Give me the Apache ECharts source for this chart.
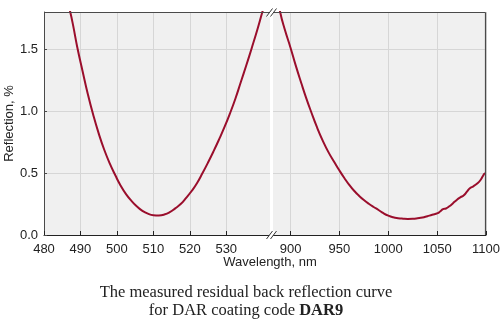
<!DOCTYPE html>
<html><head><meta charset="utf-8">
<script src="https://cdn.jsdelivr.net/npm/echarts@6/dist/echarts.min.js"></script>
<style>html,body{margin:0;padding:0;background:#fff}#c{width:503px;height:327px}</style>
</head><body><div id="c"></div>
<script>
const leftWavelengths = [486.3, 487.2, 488.0, 489.1, 490.6, 492.0, 493.5, 495.0, 496.5, 498.0, 499.6, 501.0, 502.5, 504.0, 505.5, 507.0, 508.5, 510.0, 511.5, 513.0, 514.5, 516.0, 517.5, 519.0, 520.5, 522.0, 523.5, 525.0, 526.5, 528.0, 529.5, 531.0, 532.5, 534.0, 535.5, 537.0, 538.5, 539.9, 540.7];
const leftReflection = [1.90, 1.80, 1.69, 1.52, 1.32, 1.14, 0.97, 0.82, 0.69, 0.58, 0.48, 0.40, 0.33, 0.275, 0.23, 0.195, 0.172, 0.160, 0.158, 0.165, 0.184, 0.215, 0.25, 0.30, 0.355, 0.42, 0.50, 0.585, 0.675, 0.77, 0.87, 0.98, 1.10, 1.235, 1.37, 1.51, 1.655, 1.80, 1.88];
const rightWavelengths = [887.5, 889.3, 894.0, 900.0, 905.0, 911.0, 916.0, 921.0, 927.0, 933.0, 939.0, 945.0, 950.0, 955.0, 960.0, 965.0, 970.0, 975.0, 980.0, 985.0, 990.0, 995.0, 1000.0, 1005.0, 1010.0, 1015.0, 1020.0, 1025.0, 1030.0, 1035.0, 1040.0, 1045.0, 1050.5, 1053.0, 1056.0, 1059.0, 1062.5, 1066.0, 1070.0, 1074.0, 1077.0, 1080.5, 1083.5, 1087.0, 1091.0, 1094.0, 1097.0, 1098.8, 1100.0];
const rightReflection = [1.90, 1.80, 1.66, 1.51, 1.375, 1.225, 1.105, 0.995, 0.87, 0.76, 0.665, 0.585, 0.52, 0.46, 0.405, 0.357, 0.317, 0.282, 0.252, 0.226, 0.202, 0.176, 0.156, 0.143, 0.136, 0.132, 0.130, 0.131, 0.135, 0.141, 0.152, 0.163, 0.176, 0.190, 0.208, 0.214, 0.232, 0.255, 0.283, 0.305, 0.318, 0.350, 0.378, 0.393, 0.416, 0.440, 0.478, 0.497, 0.497];
const leftTicks = [480, 490, 500, 510, 520, 530];
const rightTicks = [900, 950, 1000, 1050, 1100];
const xTitle = 'Wavelength, nm';
const yTitle = 'Reflection, %';
const captionLine1 = 'The measured residual back reflection curve';
const captionLine2a = 'for DAR coating code ';
const captionLine2b = 'DAR9';

const sans = 'Liberation Sans';
const serif = 'Liberation Serif';
const lineColor = '#9a0e2c';
const gridLine = '#d6d6d6';
const bg = '#f0f0f0';
const frame = '#4a4a4a';

const toPairs = (xs, ys) => xs.map((x, i) => [x, ys[i]]);

const chart = echarts.init(document.getElementById('c'), null, {renderer: 'canvas'});

const option = {
  animation: false,
  backgroundColor: '#fff',
  grid: [
    {left: 44, top: 12, width: 226, height: 223, show: true, backgroundColor: bg, borderWidth: 0},
    {left: 273, top: 12, right: 15, height: 223, show: true, backgroundColor: bg, borderWidth: 0}
  ],
  xAxis: [
    {type: 'value', gridIndex: 0, min: 480, max: 542, position: 'bottom',
     axisLine: {onZero: false, lineStyle: {color: '#222', width: 1}},
     axisTick: {show: true, inside: true, length: 4, customValues: leftTicks, lineStyle: {color: '#222'}},
     axisLabel: {customValues: leftTicks, color: '#222', fontFamily: sans, fontSize: 13, margin: 8, formatter: v => String(v)},
     splitLine: {show: true, lineStyle: {color: gridLine, width: 1}}},
    {type: 'value', gridIndex: 1, min: 882, max: 1100, position: 'bottom',
     axisLine: {onZero: false, lineStyle: {color: '#222', width: 1}},
     axisTick: {show: true, inside: true, length: 4, customValues: rightTicks, lineStyle: {color: '#222'}},
     axisLabel: {customValues: rightTicks, color: '#222', fontFamily: sans, fontSize: 13, margin: 8, formatter: v => String(v)},
     splitLine: {show: true, lineStyle: {color: gridLine, width: 1}}}
  ],
  yAxis: [
    {type: 'value', gridIndex: 0, min: 0, max: 1.8, interval: 0.5,
     axisLine: {show: true, onZero: false, lineStyle: {color: frame, width: 1}},
     axisTick: {show: true, inside: true, length: 3, lineStyle: {color: frame}},
     axisLabel: {color: '#222', fontFamily: sans, fontSize: 13, margin: 6, showMaxLabel: false,
                 formatter: v => v.toFixed(1)},
     splitLine: {show: true, lineStyle: {color: gridLine, width: 1}},
     name: yTitle, nameLocation: 'middle', nameGap: 27, nameRotate: 90,
     nameTextStyle: {color: '#222', fontFamily: sans, fontSize: 13}},
    {type: 'value', gridIndex: 1, min: 0, max: 1.8, interval: 0.5,
     axisLine: {show: false}, axisTick: {show: false}, axisLabel: {show: false},
     splitLine: {show: true, lineStyle: {color: gridLine, width: 1}}}
  ],
  series: [
    {type: 'line', xAxisIndex: 0, yAxisIndex: 0, data: toPairs(leftWavelengths, leftReflection),
     showSymbol: false, smooth: 0.5, clip: true, lineStyle: {color: lineColor, width: 2}},
    {type: 'line', xAxisIndex: 1, yAxisIndex: 1, data: toPairs(rightWavelengths, rightReflection),
     showSymbol: false, smooth: 0.5, clip: true, lineStyle: {color: lineColor, width: 2}}
  ]
};
chart.setOption(option);

const xL0 = chart.convertToPixel({xAxisIndex: 0}, 480);
const xL = chart.convertToPixel({xAxisIndex: 0}, 542);
const xR = chart.convertToPixel({xAxisIndex: 1}, 882);
const xR1 = chart.convertToPixel({xAxisIndex: 1}, 1100);
const yTop = Math.round(chart.convertToPixel({yAxisIndex: 0}, 1.8)) + 0.5;
const yBot = chart.convertToPixel({yAxisIndex: 0}, 0);
const xRight = Math.round(xR1) - 0.5;
const cx = (xL + xR) / 2;
function breakMark(cy) {
  return [
    {type: 'polygon', shape: {points: [[cx - 5, cy + 4], [cx - 1, cy + 4], [cx + 5, cy - 4], [cx + 1, cy - 4]]},
     style: {fill: '#fff'}, z: 100},
    {type: 'line', shape: {x1: cx - 5, y1: cy + 4, x2: cx + 1, y2: cy - 4}, style: {stroke: '#333', lineWidth: 1}, z: 101},
    {type: 'line', shape: {x1: cx - 1, y1: cy + 4, x2: cx + 5, y2: cy - 4}, style: {stroke: '#333', lineWidth: 1}, z: 101}
  ];
}
chart.setOption({
  graphic: [].concat([
    {type: 'line', shape: {x1: xL0, y1: yTop, x2: xL, y2: yTop}, style: {stroke: frame, lineWidth: 1.2}, z: 99},
    {type: 'line', shape: {x1: xR, y1: yTop, x2: xRight, y2: yTop}, style: {stroke: frame, lineWidth: 1.2}, z: 99},
    {type: 'line', shape: {x1: xRight, y1: yTop, x2: xRight, y2: yBot}, style: {stroke: frame, lineWidth: 1.2}, z: 99}
  ], breakMark(yTop), breakMark(yBot), [
    {type: 'text', x: 270, y: 262, style: {text: xTitle, fill: '#222', font: '13px "' + sans + '"', textAlign: 'center', textVerticalAlign: 'middle'}},
    {type: 'text', x: 246, y: 293, style: {text: captionLine1, fill: '#222', font: '16.5px "' + serif + '"', textAlign: 'center', textVerticalAlign: 'middle'}},
    {type: 'text', x: 246, y: 311, style: {
      text: '{n|' + captionLine2a + '}{b|' + captionLine2b + '}', textAlign: 'center', textVerticalAlign: 'middle',
      rich: {n: {fill: '#222', fontFamily: serif, fontSize: 16.5}, b: {fill: '#222', fontFamily: serif, fontSize: 16.5, fontWeight: 'bold'}}
    }}
  ])
});
</script>
</body></html>
